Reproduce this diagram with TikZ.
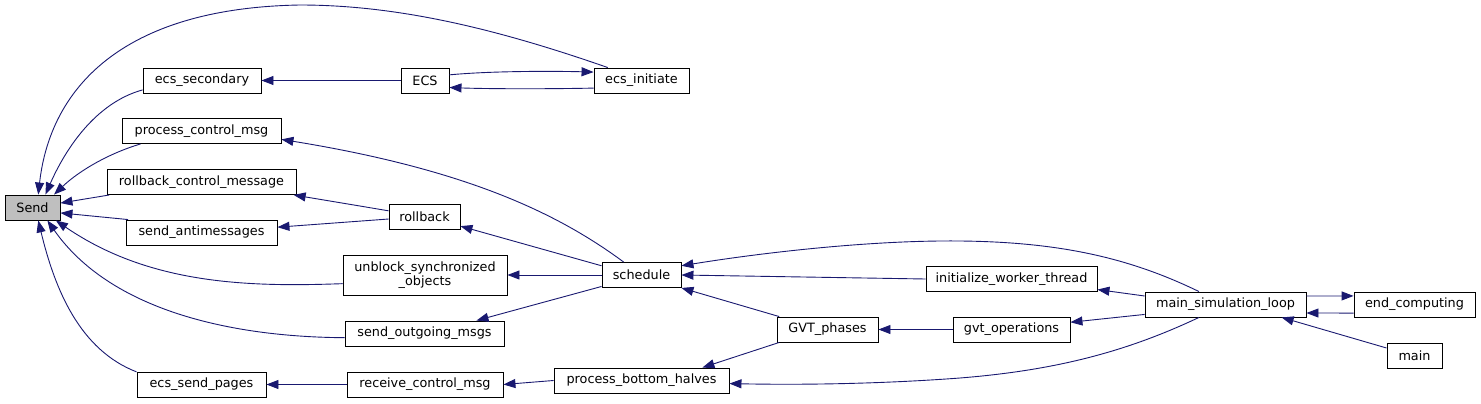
\documentclass[tikz,border=0pt]{standalone}
\usepackage{fontspec}
\setmainfont{DejaVu Sans}
\usepackage{tikz}
\usetikzlibrary{arrows.meta}
\definecolor{edgeblue}{HTML}{191970}
\definecolor{hilite}{HTML}{BFBFBF}

\begin{document}
\begin{tikzpicture}[x=1pt, y=-1pt,
    fn/.style={draw=black, line width=0.9pt, inner sep=0pt, minimum height=25pt,
               font=\fontsize{12.8}{14}\selectfont},
    call/.style={draw=edgeblue, line width=0.9pt, -{Triangle[length=12pt,width=9pt]}}]
        \useasboundingbox (0,0) rectangle (1481,404);

        % functions
        \node[fn, fill=hilite, minimum width=55] (Send) at (32.5,207.5) {Send};
        \node[fn, minimum width=118] (ecssec) at (202,80.5) {ecs\_secondary};
        \node[fn, minimum width=159] (pcm) at (201.5,131) {process\_control\_msg};
        \node[fn, minimum width=189] (rcm) at (201.5,182) {rollback\_control\_message};
        \node[fn, minimum width=151] (santi) at (201.5,232.5) {send\_antimessages};
        \node[fn, minimum width=129] (esp) at (201.5,384.5) {ecs\_send\_pages};
        \node[fn, minimum width=48] (ECS) at (425,80.5) {ECS};
        \node[fn, minimum width=71] (rollback) at (424.5,216.5) {rollback};
        \node[fn, minimum width=164, minimum height=40, align=center] (unblock) at (425,275) {unblock\_synchronized\\\_objects};
        \node[fn, minimum width=159] (sout) at (424.5,333.5) {send\_outgoing\_msgs};
        \node[fn, minimum width=156] (rcv) at (425,384.5) {receive\_control\_msg};
        \node[fn, minimum width=95] (ecsinit) at (641.5,80.5) {ecs\_initiate};
        \node[fn, minimum width=79] (schedule) at (641.5,275) {schedule};
        \node[fn, minimum width=175] (pbh) at (641.5,380.5) {process\_bottom\_halves};
        \node[fn, minimum width=101] (gvtph) at (827.5,329.5) {GVT\_phases};
        \node[fn, minimum width=171] (iwt) at (1011.5,279) {initialize\_worker\_thread};
        \node[fn, minimum width=117] (gvtop) at (1011.5,329.5) {gvt\_operations};
        \node[fn, minimum width=161] (msl) at (1225.5,304.5) {main\_simulation\_loop};
        \node[fn, minimum width=121] (endc) at (1414.5,304.5) {end\_computing};
        \node[fn, minimum width=55] (main) at (1414.5,355.5) {main};

        % callers of Send
        \draw[call] (ecsinit.159) .. controls (500,30) and (400,5) .. (300,5) .. controls (120,8) and (50,90) .. (Send.66);
        \draw[call] (ecssec.189) .. controls (95,103) and (65,150) .. (Send.45);
        \draw[call] (pcm.192) .. controls (110,153) and (80,170) .. (Send.31);
        \draw[call] (unblock.186) .. controls (250,287) and (150,285) .. (Send.-29);
        \draw[call] (sout.183) .. controls (230,337) and (110,310) .. (Send.-41);
        \draw[call] (esp.169) .. controls (80,350) and (55,290) .. (Send.-66);

        % straight calls
        \foreach \from/\to in {rcm.188/Send.9, santi.170/Send.-11, ECS.west/ecssec.east,
            rollback.171/rcm.-8, rollback.184/santi.4, schedule.167/rollback.-15,
            schedule.west/unblock.east, schedule.196/sout.14, rcv.west/esp.east,
            pbh.west/rcv.east, iwt.west/schedule.east, gvtph.165/schedule.south east,
            gvtph.195/pbh.12, gvtop.west/gvtph.east, msl.174/iwt.-7, msl.187/gvtop.7,
            msl.6/endc.172, endc.188/msl.-6, main.165/msl.-13}
            \draw[call] (\from) -- (\to);

        % curved calls
        \draw[call] (ECS.13) .. controls (490,71) and (550,71) .. (ecsinit.170);
        \draw[call] (ecsinit.189) .. controls (550,89) and (490,89) .. (ECS.-16);
        \draw[call] (schedule.144) .. controls (560,215) and (470,170) .. (pcm.-6);
        \draw[call] (msl.154) .. controls (1130,258) and (1060,242) .. (960,241) .. controls (870,240) and (760,253) .. (schedule.13);
        \draw[call] (msl.206) .. controls (1130,350) and (1060,370) .. (960,378) .. controls (880,384) and (800,385) .. (pbh.-2);
    \end{tikzpicture}
\end{document}
